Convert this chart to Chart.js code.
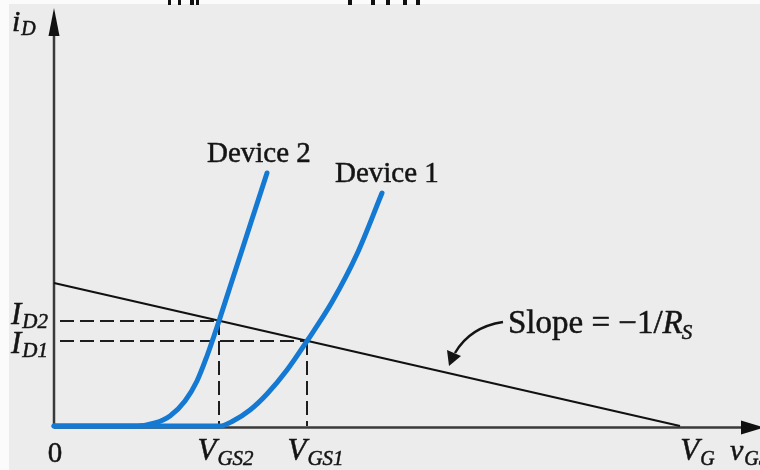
<!DOCTYPE html>
<html>
<head>
<meta charset="utf-8">
<script src="https://cdn.jsdelivr.net/npm/chart.js@4/dist/chart.umd.min.js"></script>
<style>
  html, body { margin: 0; padding: 0; background: #ececec; }
  #wrap { width: 760px; height: 470px; }
</style>
</head>
<body>
<div id="wrap"><canvas id="c" width="760" height="470"></canvas></div>
<script>
// Transfer characteristics of two MOSFETs (gate voltage vs drain current)
const device2V = [0, 83, 101, 116, 131, 143, 153, 160, 165, 176, 189, 201, 213];
const device2I = [0, 0, 3, 10, 25, 45, 70, 90, 105, 139, 179, 216, 253];
const device1V = [0, 166, 179, 196, 213, 233, 253, 278, 303, 328];
const device1I = [0, 0, 5, 16, 32, 56, 85, 124, 172, 233];

// Bias line i_D = (V_G - v_GS) / R_S
const loadV = [0, 626];
const loadI = [143, 0];

// Operating points where the bias line meets each curve
const VGS2 = 165, ID2 = 105;
const VGS1 = 253, ID1 = 85;
const VG = 626;

// Axis extents
const V_MAX = 706, I_MAX = 414;

const SERIF = "'Liberation Serif', 'Times New Roman', serif";
const BLUE = '#1479d2';
const INK = '#141414';

const pts = (xs, ys) => xs.map((x, k) => ({ x: x, y: ys[k] }));

// filled text with a hairline outline so the glyphs read a little heavier
function ink(ctx, s, x, y) {
  ctx.fillText(s, x, y);
  ctx.strokeText(s, x, y);
}

function subText(ctx, x, y, main, sub, size, subSize, drop, mainItalic, align) {
  const mf = (mainItalic ? 'italic ' : '') + size + 'px ' + SERIF;
  const sf = 'italic ' + subSize + 'px ' + SERIF;
  ctx.font = mf;
  const mw = ctx.measureText(main).width;
  ctx.font = sf;
  const sw = ctx.measureText(sub).width;
  let x0 = x;
  if (align === 'center') x0 = x - (mw + sw) / 2;
  ctx.textAlign = 'left';
  ctx.textBaseline = 'alphabetic';
  ctx.font = mf;
  ink(ctx, main, x0, y);
  ctx.font = sf;
  ink(ctx, sub, x0 + mw + 1, y + drop);
}

const backdrop = {
  id: 'backdrop',
  beforeDraw(chart) {
    const ctx = chart.ctx;
    ctx.save();
    ctx.fillStyle = '#ececec';
    ctx.fillRect(0, 0, chart.width, chart.height);
    ctx.fillStyle = '#fbfbfb';
    ctx.fillRect(0, 0, chart.width, 4);
    ctx.fillRect(0, 0, 9, chart.height);
    // descenders of the line of text above the figure
    ctx.fillStyle = '#111';
    [[168, 3], [178, 3], [190, 4], [196, 3], [348, 4], [371, 4], [386, 4], [403, 4], [416, 4]]
      .forEach(([x, w]) => ctx.fillRect(x, 0, w, 5));
    ctx.restore();
  }
};

const axes = {
  id: 'axes',
  beforeDatasetsDraw(chart) {
    const ctx = chart.ctx;
    const xs = chart.scales.x, ys = chart.scales.y;
    const x0 = xs.getPixelForValue(0), y0 = ys.getPixelForValue(0) + 1.5;
    ctx.save();
    ctx.strokeStyle = '#3a3a3a';
    ctx.fillStyle = '#111';
    ctx.lineWidth = 2.5;
    ctx.beginPath();
    ctx.moveTo(x0, y0);
    ctx.lineTo(x0, 30);
    ctx.moveTo(x0, y0);
    ctx.lineTo(746, y0);
    ctx.stroke();
    // arrowheads
    ctx.beginPath();
    ctx.moveTo(x0, 8);
    ctx.lineTo(x0 - 5.5, 36);
    ctx.lineTo(x0 + 5.5, 36);
    ctx.closePath();
    ctx.fill();
    ctx.beginPath();
    ctx.moveTo(764, y0);
    ctx.lineTo(741, y0 - 7);
    ctx.lineTo(741, y0 + 7);
    ctx.closePath();
    ctx.fill();
    ctx.restore();
  }
};

const labels = {
  id: 'labels',
  afterDraw(chart) {
    const ctx = chart.ctx;
    const xs = chart.scales.x, ys = chart.scales.y;
    ctx.save();
    ctx.fillStyle = INK;
    ctx.strokeStyle = INK;
    ctx.lineWidth = 0.5;

    // axis names
    subText(ctx, 12, 31, 'i', 'D', 30, 20, 4, true, 'left');
    ctx.font = '29px ' + SERIF;
    ctx.textAlign = 'center';
    ink(ctx, '0', xs.getPixelForValue(0) + 1, 462);
    subText(ctx, 730, 460, 'v', 'GS', 30, 20, 5, true, 'left');

    // operating point labels
    subText(ctx, 11, ys.getPixelForValue(ID2) + 3, 'I', 'D2', 31, 21, 4, true, 'left');
    subText(ctx, 11, ys.getPixelForValue(ID1) + 12, 'I', 'D1', 31, 21, 4, true, 'left');
    subText(ctx, xs.getPixelForValue(VGS2) + 6, 460, 'V', 'GS2', 31, 21, 5, true, 'center');
    subText(ctx, xs.getPixelForValue(VGS1) + 8, 460, 'V', 'GS1', 31, 21, 5, true, 'center');
    subText(ctx, xs.getPixelForValue(VG) + 17, 460, 'V', 'G', 31, 20, 5, true, 'center');

    // curve names
    ctx.font = '29px ' + SERIF;
    ctx.textAlign = 'left';
    ink(ctx, 'Device 2', 207, 162);
    ink(ctx, 'Device 1', 335, 182);

    // slope annotation
    ctx.font = '33px ' + SERIF;
    const s1 = 'Slope = \u22121/';
    ink(ctx, s1, 508, 333);
    const w1 = ctx.measureText(s1).width;
    ctx.font = 'italic 33px ' + SERIF;
    ink(ctx, 'R', 508 + w1, 333);
    const w2 = ctx.measureText('R').width;
    ctx.font = 'italic 21px ' + SERIF;
    ink(ctx, 'S', 508 + w1 + w2 - 1, 339);

    // pointer from the annotation to the bias line
    ctx.lineWidth = 2.5;
    ctx.beginPath();
    ctx.moveTo(503, 322);
    ctx.quadraticCurveTo(470, 327, 455, 353);
    ctx.stroke();
    ctx.beginPath();
    ctx.moveTo(449, 366);
    ctx.lineTo(447, 350);
    ctx.lineTo(461, 356);
    ctx.closePath();
    ctx.fill();
    ctx.restore();
  }
};

const dashStyle = {
  borderColor: '#1e1e1e',
  borderWidth: 2,
  borderDash: [14, 6],
  borderDashOffset: 14,
  pointRadius: 0,
  showLine: true,
  clip: false,
  order: 3
};

new Chart(document.getElementById('c'), {
  type: 'scatter',
  data: {
    datasets: [
      { label: 'Device 2', data: pts(device2V, device2I), showLine: true, borderColor: BLUE,
        borderWidth: 5, pointRadius: 0, cubicInterpolationMode: 'monotone', clip: false, order: 0,
        borderCapStyle: 'round' },
      { label: 'Device 1', data: pts(device1V, device1I), showLine: true, borderColor: BLUE,
        borderWidth: 5, pointRadius: 0, cubicInterpolationMode: 'monotone', clip: false, order: 0,
        borderCapStyle: 'round' },
      { label: 'Bias line', data: pts(loadV, loadI), showLine: true, borderColor: '#111',
        borderWidth: 2.2, pointRadius: 0, clip: false, order: 1 },
      Object.assign({ label: 'ID2', data: [{ x: 0, y: ID2 }, { x: VGS2, y: ID2 }] }, dashStyle),
      Object.assign({ label: 'ID1', data: [{ x: 0, y: ID1 }, { x: VGS1, y: ID1 }] }, dashStyle),
      Object.assign({ label: 'VGS2', data: [{ x: VGS2, y: ID2 }, { x: VGS2, y: 0 }] }, dashStyle, { borderDashOffset: 0 }),
      Object.assign({ label: 'VGS1', data: [{ x: VGS1, y: ID1 }, { x: VGS1, y: 0 }] }, dashStyle, { borderDashOffset: 0 })
    ]
  },
  options: {
    responsive: false,
    devicePixelRatio: 1,
    animation: false,
    layout: { padding: { left: 54, right: 0, top: 12, bottom: 44 } },
    scales: {
      x: { type: 'linear', min: 0, max: V_MAX, display: false },
      y: { type: 'linear', min: 0, max: I_MAX, display: false }
    },
    plugins: { legend: { display: false }, tooltip: { enabled: false } }
  },
  plugins: [backdrop, axes, labels]
});
</script>
</body>
</html>
